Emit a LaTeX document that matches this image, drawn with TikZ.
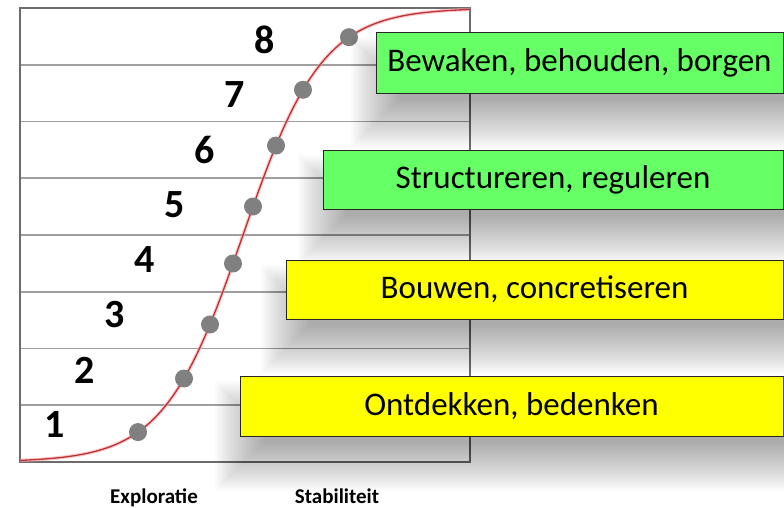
\documentclass[tikz,border=0pt]{standalone}
\usepackage{fontspec}
\setmainfont{Carlito}
\usetikzlibrary{positioning}
\definecolor{phasegreen}{RGB}{102,255,102}
\definecolor{phaseyellow}{RGB}{255,255,0}
\definecolor{curvered}{RGB}{185,50,55}
\definecolor{dotgray}{RGB}{128,128,128}

\begin{document}
\begin{tikzpicture}[x=1pt,y=-1pt,
  declare function={scurve(\t)=462-454/(1+exp(-(\t-243)/39.6));},
  grid line/.style={draw=gray!75,line width=1.6pt},
  phase box/.style={draw=black!85,line width=1pt,anchor=north west,inner sep=0pt,outer sep=0pt,
    font=\fontsize{33}{36}\selectfont},
  step dot/.style={circle,fill=dotgray,minimum size=18pt,inner sep=0pt},
  step num/.style={font=\fontsize{40}{44}\selectfont\bfseries},
  axis label/.style={anchor=base,font=\fontsize{21}{24}\selectfont\bfseries}]
  \useasboundingbox (0,0) rectangle (784,507);
  % frame and rows
  \foreach \i in {1,...,7}
    \draw[grid line] (20,8+56.75*\i) -- (470,8+56.75*\i);
  \draw[draw=gray!85!black,line width=2.2pt] (20,8) rectangle (470,462);
  % s-curve with its steps
  \draw[red!35,line width=3.5pt,opacity=.6] plot[domain=20:470,samples=150] (\x,{scurve(\x)});
  \draw[curvered,line width=1.3pt] plot[domain=20:470,samples=150] (\x,{scurve(\x)});
  \foreach \x [count=\i] in {138,184,210,233,253,276,303,349}
    \node[step dot] (d\i) at (\x,{scurve(\x)}) {};
  \foreach \i in {1,...,8}
    \node[step num] (n\i) at (25+30*\i,480-55*\i) {\i};
  % phases, each with a soft shadow
  \foreach \name/\L/\T/\B/\col/\txt in {
    explore/240/376/436/phaseyellow/{Ontdekken, bedenken},
    build/286/260/319/phaseyellow/{Bouwen, concretiseren},
    structure/323/150/209/phasegreen/{Structureren, reguleren},
    guard/376/32/93/phasegreen/{Bewaken, behouden, borgen}}
  {
    \foreach \k in {0,2,...,48}
      \fill[black,opacity=.017] (\L-25+\k,\T+5+\k) rectangle (784,\B+55-\k);
    \node[phase box,fill=\col,minimum width=783-\L,minimum height=\B-\T] (\name) at (\L,\T) {\txt};
  }
  \node[axis label] (exploratie) at (154,503) {Exploratie};
  \node[axis label] (stabiliteit) at (337,503) {Stabiliteit};
\end{tikzpicture}
\end{document}
